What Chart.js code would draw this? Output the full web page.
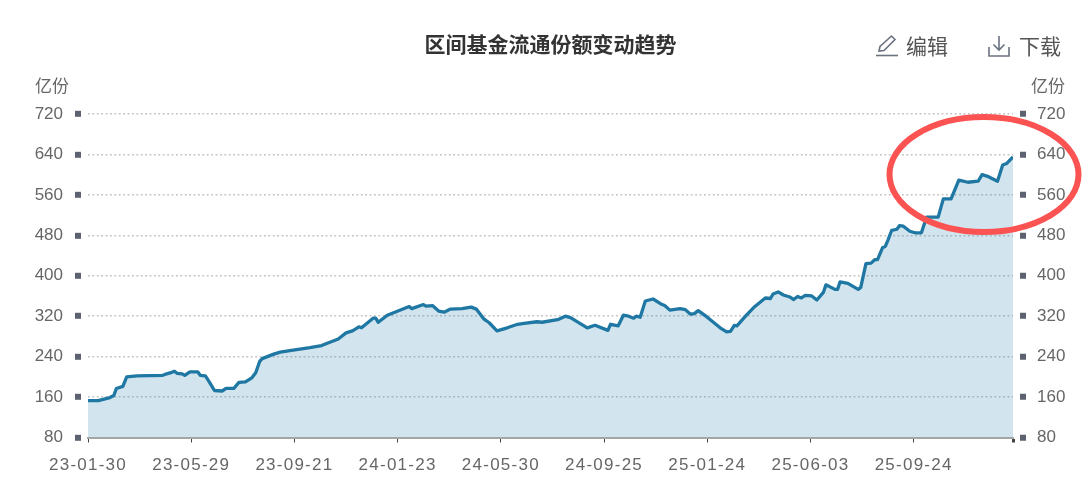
<!DOCTYPE html>
<html lang="zh">
<head>
<meta charset="utf-8">
<title>区间基金流通份额变动趋势</title>
<script src="https://cdn.jsdelivr.net/npm/chart.js@4"></script>
<style>
  html, body { margin: 0; background: #fff; }
  #wrap { position: relative; width: 1086px; height: 483px; overflow: hidden; font-family: "Liberation Sans", "Noto Sans CJK SC", sans-serif; }
  .unit { position: absolute; top: 77px; font-size: 17px; line-height: 20px; color: #666; }
  .tool { position: absolute; top: 31px; font-size: 21px; line-height: 28px; color: #555; font-family: "Noto Sans CJK SC", sans-serif; font-weight: 400; }
  svg { position: absolute; pointer-events: none; }
</style>
</head>
<body>
<div id="wrap">
  <canvas id="shareChart" width="1086" height="483"></canvas>
  <span class="unit" style="left:35px">亿份</span>
  <span class="unit" style="left:1031px">亿份</span>
  <svg style="left:874px;top:33px" width="26" height="26" viewBox="0 0 26 26" fill="none" stroke="#6b7280" stroke-width="1.6">
    <path d="M2 22.5h22"/>
    <path d="M5 18l1-4.5L17.5 3l3.5 3.5L10 17.5z"/>
  </svg>
  <span class="tool" style="left:906px">编辑</span>
  <svg style="left:986px;top:33px" width="26" height="26" viewBox="0 0 26 26" fill="none" stroke="#6b7280" stroke-width="1.6">
    <path d="M3 14v9h20v-9"/>
    <path d="M13 3v14M7.5 11.5l5.5 5.5 5.5-5.5"/>
  </svg>
  <span class="tool" style="left:1019px">下载</span>
  <svg style="left:0;top:0" width="1086" height="483">
    <ellipse cx="984" cy="174.5" rx="94.5" ry="57.5" fill="none" stroke="#fb5252" stroke-width="6"/>
  </svg>
</div>
<script>
const tradingDays = [0, 8, 11, 17, 20, 22, 27, 30, 38, 58, 61, 65, 67, 69, 73, 75, 79, 85, 87, 91, 94, 98, 104, 107, 113, 117, 122, 127, 130, 133, 135, 144, 149, 159, 172, 181, 194, 200, 205, 210,
  212, 221, 223, 225, 232, 249, 251, 260, 262, 267, 272, 276, 281, 290, 297, 301, 307, 311, 317, 325, 333, 338, 348, 352, 364, 370, 374, 387, 393, 403, 405, 411, 415, 419, 423, 425, 428, 432, 438, 445, 447, 451, 459, 463, 467, 470, 473, 480,
  490, 495, 498, 501, 503, 510, 516, 525, 529, 531, 535, 539, 544, 547, 550, 553, 556, 561, 565, 570, 572, 579, 581, 583, 589, 597, 599, 603, 607, 610, 612, 616, 618, 620, 623, 627, 629, 632, 637, 641, 646,
  650, 659, 663, 669, 675, 682, 690, 693, 698, 705, 709, 712, 717];
const shares = [153, 153, 155, 159, 163, 177, 181, 200, 202, 203, 206, 209, 211, 207, 206, 203, 210, 210, 203, 202, 190, 173, 172, 177, 177, 189, 190, 198, 208, 230, 236, 245, 249, 253, 258, 262, 275, 287, 291, 299,
  297, 316, 316, 308, 322, 339, 335, 343, 340, 341, 330, 328, 334, 335, 338, 334, 314, 307, 291, 297, 304, 306, 309, 308, 313, 320, 317, 297, 302, 292, 304, 301, 322, 320, 316, 320, 318, 350, 354, 343, 341, 332, 335, 333, 324, 325, 331, 318,
  297, 289, 290, 302, 301, 321, 337, 356, 355, 364, 368, 362, 358, 353, 359, 356, 361, 360, 352, 367, 382, 373, 373, 388, 385, 373, 377, 424, 425, 432, 432, 456, 458, 470, 490, 492, 499, 498, 488, 485, 485,
  516, 516, 552, 552, 589, 585, 587, 600, 596, 587, 619, 622, 635];
const tickDays = [0, 80, 160, 240, 320, 400, 480, 560, 640, 717];
const tickLabels = ['23-01-30', '23-05-29', '23-09-21', '24-01-23', '24-05-30', '24-09-25', '25-01-24', '25-06-03', '25-09-24', ''];
const yMin = 80;
const yMax = 720;
const yStep = 80;

const labelFont = { family: '"Liberation Sans", "Noto Sans CJK SC", sans-serif', size: 17 };

function yAxis(position, showGrid) {
  return {
    type: 'linear',
    position: position,
    min: yMin,
    max: yMax,
    afterFit: scale => { scale.width = 73; },
    border: { display: false, dash: [1.8, 2.6] },
    grid: {
      drawOnChartArea: showGrid,
      color: '#c2c2c2',
      lineWidth: 1.6,
      tickLength: 13,
      tickWidth: 6,
      tickColor: '#5c6270',
      // ticks are painted from a different end on each side
      tickBorderDash: position === 'left' ? [6, 20] : [0, 7, 6, 20]
    },
    ticks: {
      stepSize: yStep,
      color: '#666',
      padding: position === 'left' ? 12 : 11,
      font: labelFont
    }
  };
}

new Chart(document.getElementById('shareChart').getContext('2d'), {
  type: 'line',
  data: {
    datasets: [{
      data: tradingDays.map((d, i) => ({ x: d, y: shares[i] })),
      yAxisID: 'y',
      borderColor: '#1f77a3',
      backgroundColor: 'rgba(31,119,163,0.2)',
      borderWidth: 3.3,
      borderJoinStyle: 'round',
      pointRadius: 0,
      tension: 0,
      fill: 'origin'
    }]
  },
  options: {
    responsive: false,
    animation: false,
    layout: { padding: { left: 15 } },
    plugins: {
      legend: { display: false },
      tooltip: { enabled: false },
      title: {
        display: true,
        text: '区间基金流通份额变动趋势',
        color: '#333',
        font: { family: '"Noto Sans CJK SC", sans-serif', size: 21, weight: 'bold' },
        padding: { top: 31.5, bottom: 57.3 }
      }
    },
    scales: {
      x: {
        type: 'linear',
        min: 0,
        max: 717,
        afterFit: scale => { scale.height = 45.5; },
        afterBuildTicks: scale => { scale.ticks = tickDays.map(value => ({ value })); },
        border: { display: true, color: '#a6a6a6', width: 2 },
        grid: {
          drawOnChartArea: false,
          tickLength: 5,
          tickColor: '#444',
          tickWidth: ctx => (ctx.index === tickDays.length - 1 ? 3 : 1)
        },
        ticks: {
          autoSkip: false,
          maxRotation: 0,
          color: '#666',
          padding: 13,
          font: labelFont,
          callback: (value, index) => tickLabels[index]
        }
      },
      y: yAxis('left', true),
      y2: yAxis('right', false)
    }
  },
  plugins: [{
    // the date labels in the reference run wider than the plain font
    id: 'dateLabelSpacing',
    afterLayout: chart => {
      const scale = chart.scales.x;
      if (scale.spacedLabels) return;
      scale.spacedLabels = true;
      const drawLabels = scale.drawLabels;
      scale.drawLabels = function (area) {
        chart.ctx.save();
        chart.ctx.letterSpacing = '1.25px';
        drawLabels.call(this, area);
        chart.ctx.restore();
      };
    }
  }, {
    // the right axis has no dataset of its own, keep it visible
    id: 'keepRightAxis',
    beforeLayout: chart => { chart.options.scales.y2.display = true; }
  }]
});
</script>
</body>
</html>
